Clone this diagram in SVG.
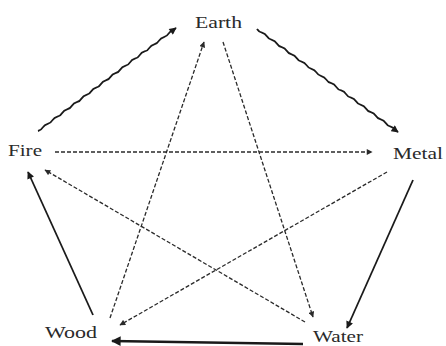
<svg xmlns="http://www.w3.org/2000/svg" width="446" height="346" viewBox="0 0 446 346">
<style>
text{font-family:"Liberation Serif","DejaVu Serif",serif;font-size:17px;fill:#2a2a2a}
.s{fill:none;stroke:#1a1a1a;stroke-width:1.8}
.w{fill:none;stroke:#1a1a1a;stroke-width:1.8;stroke-linejoin:round}
.d{fill:none;stroke:#2a2a2a;stroke-width:1.3;stroke-dasharray:4 2}
</style>
<defs>
<marker id="ah" viewBox="0 0 10 10" refX="9" refY="5" markerWidth="4.5" markerHeight="4" markerUnits="strokeWidth" orient="auto"><path d="M0,0 L10,5 L0,10 z" fill="#1a1a1a"/></marker>
<marker id="ahd" viewBox="0 0 10 10" refX="9" refY="5" markerWidth="5" markerHeight="4.5" markerUnits="strokeWidth" orient="auto"><path d="M0,0 L10,5 L0,10 z" fill="#2a2a2a"/></marker>
</defs>
<rect width="446" height="346" fill="#fff"/>
<g id="connectors">
<path class="w" marker-end="url(#ah)" d="M38,131 q3.199,-0.765 4.843,-3.614 t4.843,-3.614 t4.843,-3.614 t4.843,-3.614 t4.843,-3.614 t4.843,-3.614 t4.843,-3.614 t4.843,-3.614 t4.843,-3.614 t4.843,-3.614 t4.843,-3.614 t4.843,-3.614 t4.843,-3.614 t4.843,-3.614 t4.843,-3.614 t4.843,-3.614 t4.843,-3.614 t4.843,-3.614 t4.843,-3.614 t4.843,-3.614 t4.843,-3.614 t4.843,-3.614 t4.843,-3.614 t4.843,-3.614 t4.843,-3.614 t4.843,-3.614 t4.843,-3.614 t4.843,-3.614 l2.4,-1.79"/>
<path class="w" marker-end="url(#ah)" d="M257,29 q1.708,2.858 4.95,3.616 t4.95,3.616 t4.95,3.616 t4.95,3.616 t4.95,3.616 t4.95,3.616 t4.95,3.616 t4.95,3.616 t4.95,3.616 t4.95,3.616 t4.95,3.616 t4.95,3.616 t4.95,3.616 t4.95,3.616 t4.95,3.616 t4.95,3.616 t4.95,3.616 t4.95,3.616 t4.95,3.616 t4.95,3.616 t4.95,3.616 t4.95,3.616 t4.95,3.616 t4.95,3.616 t4.95,3.616 t4.95,3.616 t4.95,3.616 t4.95,3.616 l2.42,1.77"/>
<path class="s" marker-end="url(#ah)" d="M413,180 L347,328"/>
<path class="s" marker-end="url(#ah)" d="M303,344 L112,341" style="stroke-width:2.4"/>
<path class="s" marker-end="url(#ah)" d="M93,315 L28,172"/>
<path class="d" marker-end="url(#ahd)" d="M55,152 L372,152"/>
<path class="d" marker-end="url(#ahd)" d="M110,318 L204,42"/>
<path class="d" marker-end="url(#ahd)" d="M223,42 L313,317"/>
<path class="d" marker-end="url(#ahd)" d="M387,172 L120,325"/>
<path class="d" marker-end="url(#ahd)" d="M305,322 L45,170"/>
</g>
<g id="earth"><text x="195" y="28" textLength="47" lengthAdjust="spacingAndGlyphs">Earth</text></g>
<g id="fire"><text x="8" y="156" textLength="34" lengthAdjust="spacingAndGlyphs">Fire</text></g>
<g id="metal"><text x="393" y="159" textLength="50" lengthAdjust="spacingAndGlyphs">Metal</text></g>
<g id="wood"><text x="45" y="338" textLength="52" lengthAdjust="spacingAndGlyphs">Wood</text></g>
<g id="water"><text x="313" y="342" textLength="50" lengthAdjust="spacingAndGlyphs">Water</text></g>
</svg>
